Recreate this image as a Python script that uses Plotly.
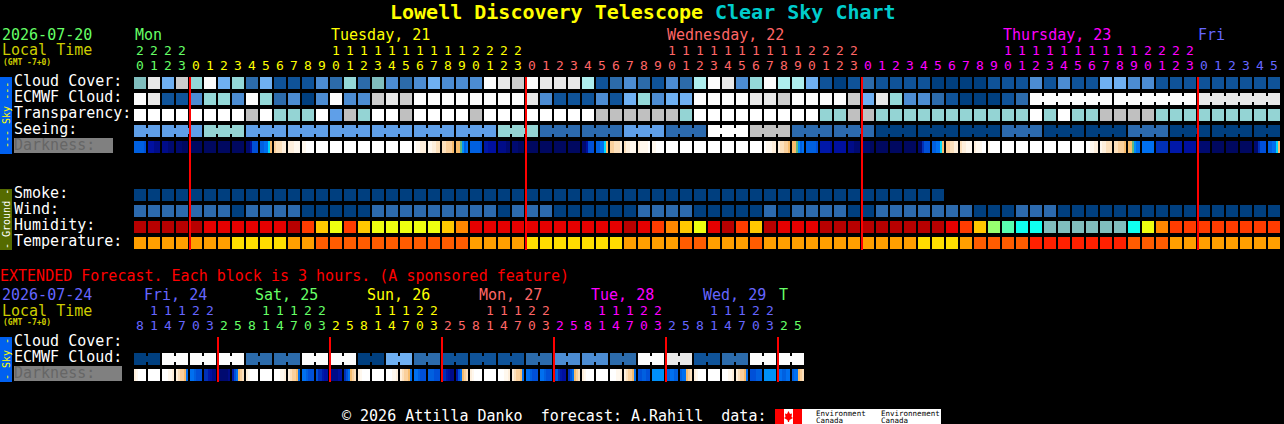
import plotly.graph_objects as go

W, H = 1284, 424
FONT = "DejaVu Sans Mono"

# ---------- hourly forecast data (one entry per block) ----------
HOURS = [20, 21, 22, 23] + list(range(24)) * 3 + [0, 1, 2, 3, 4, 5]
EXT_HOURS = [8, 11, 14, 17, 20, 23, 2, 5] * 6
EXT_HOURS = EXT_HOURS[:48]

CLOUD = [5, 9, 4, 8, 6, 10, 4, 6, 2, 4, 1, 1, 1, 3, 2, 6, 2, 5, 3, 2, 3, 4, 3, 3, 3, 10, 9, 8,
         10, 9, 9, 9, 7, 1, 2, 3, 2, 1, 3, 2, 7, 10, 9, 3, 6, 10, 7, 7, 4, 1, 0, 1,
         2, 1, 1, 1, 1, 0, 0, 0, 0, 1, 1, 1, 3, 1, 3, 1, 1, 4, 4, 3, 3, 1, 1, 1, 1, 1, 1, 1, 1, 1]
ECMWF = [10, 9, 1, 1, 3, 6, 6, 3, 10, 6, 2, 3, 0, 3, 10, 3, 3, 8, 9, 8, 10, 10, 10, 10, 10, 10, 10, 10,
         9, 3, 1, 1, 1, 3, 1, 4, 6, 3, 4, 4, 10, 10, 10, 10, 9, 9, 8, 10, 10, 10, 10, 8,
         4, 9, 6, 3, 3, 2, 1, 0, 0, 0, 1, 2, 10, 10, 10, 10, 10, 10, 10, 10, 10, 10, 10, 10, 9, 9, 9, 9, 9, 9]
ECMWF_MERGED = [64, 70, 76]
TRANSPARENCY = ["w", "w", "w", "w", "w", "w", "w", "w", "g", "w", "t", "t", "t", "w", "b", "g", "t", "w", "w", "g", "w",
                "w", "w", "w", "g", "w", "w", "w", "w", "w", "w", "w", "w", "g", "g", "g", "g", "g", "g", "t",
                "w", "w", "w", "w", "w", "w", "w", "w", "w", "t", "t", "g", "g",
                "t", "t", "t", "t", "t", "t", "t", "t", "t", "t", "t", "w", "t", "w", "t", "t", "g", "g", "g", "g",
                "t", "t", "t", "t", "t", "t", "t", "t", "t"]
SEEING_GROUP_LEN = [2] + [3] * 26 + [2]
SEEING = ["b", "b", "t", "b", "b", "b", "b", "b", "b", "t", "m", "m", "b", "m", "w", "g", "m", "m",
          "d", "d", "d", "m", "d", "d", "m", "d", "d", "d"]
DARKNESS = ["kkkkkl", "ooopp" + "p", "pppqqq", "qqqrrr", "rrrrrr", "rrrrrr", "rrrrrr", "rrrrrr", "qqolll", "kkjjhf",
            "edddcc", "cccbbb", "bbaaaa", "aaaaaa", "aaaaaa", "aaaaaa", "aaaaaa", "aaaaaa", "aaaaaa", "aaaaaa",
            "abbccc", "bbccdd", "ddeeef", "ffgikj", "kkkkkl", "nnoooo", "ppppqq", "qqqrrr", "rrrrrr", "rrrrrr",
            "rrrrrr", "rrrrrr", "qqolll", "kkjjhf", "eedddc", "dccbbb", "cbbbba", "bbaaaa", "aaaaaa", "aaaaaa",
            "aaaaaa", "aaaaaa", "aaaaaa", "aaaaaa", "aaaaaa", "abbbcc", "cddeef", "ffgikj", "kkkkkl", "nnnnno",
            "oooooo", "pppqqq", "qqqqrr", "rrrrrr", "rrrrrr", "rrrrrr", "qqmlll", "kkjjhf", "eeddcc", "dccbbb",
            "cbbbaa", "baaaaa", "aaaaaa", "aaaaaa", "aaaaaa", "aaaaaa", "aaaaaa", "aaaaaa", "aabbcc", "bccddd",
            "ddeeef", "ffgijj", "jjjjjj", "mmmmmm", "nnnnnn", "oooooo", "qqqqqq", "rrrrrr", "rrrrrr", "rrrrrr",
            "qqmlll", "kkjjhf"]
SMOKE = [0] * 58
WIND = [1, 1, 1, 1, 1, 1, 1, 0, 1, 1, 1, 1, 0, 0, 0, 0, 0, 1, 1, 1, 1, 1, 1, 1, 1, 1, 0, 1, 1, 1,
        0, 0, 0, 0, 0, 0, 1, 1, 1, 1, 0, 0, 0, 0, 0, 1, 0, 1, 1, 1, 1, 0,
        0, 1, 1, 1, 1, 1, 1, 1, 0, 0, 0, 1, 1, 1, 0, 0, 0, 0, 0, 0, 0, 0, 0, 0, 0, 0, 0, 0, 0, 0]
HUMIDITY = ["a", "a", "a", "a", "a", "b", "b", "b", "b", "b", "b", "a", "r", "o", "y", "r", "o", "y", "y", "y", "y",
            "y", "o", "n", "b", "b", "b", "b", "b", "b", "b", "b", "b", "b", "b", "a", "b", "r", "n", "o", "y", "b", "a", "r", "o",
            "a", "b", "b", "b", "a", "a", "a",
            "a", "a", "a", "a", "a", "a", "b", "r", "o", "l", "i", "c", "c", "t", "t", "t", "t", "t", "t", "c", "y", "n", "r", "r",
            "r", "r", "r", "r", "r", "r"]
TEMPERATURE = ["o", "o", "o", "o", "o", "o", "o", "y", "y", "y", "y", "o", "o", "d", "d", "d", "d", "d", "d", "d", "d",
               "d", "d", "d", "o", "o", "o", "o", "y", "y", "y", "y", "y", "y", "y", "o", "o", "o", "o", "d", "d", "o", "o", "o", "d",
               "o", "o", "o", "o", "o", "o", "o",
               "o", "o", "o", "o", "y", "y", "y", "o", "d", "d", "d", "d", "r", "r", "r", "r", "r", "r", "r", "d", "d", "d", "o", "o",
               "o", "o", "o", "o", "o", "o"]
MIDNIGHTS = [4, 28, 52, 76]

# ---------- extended forecast (one ECMWF value per 6 h pair, 6 darkness steps per block) ----------
EXT_ECMWF = [0, 10, 10, 10, 2, 2, 10, 10, 0, 4, 2, 1, 1, 1, 2, 3, 3, 2, 10, 9, 1, 2, 10, 10]
EXT_DARKNESS = ["cbaaaa", "aaaaaa", "aaabbc", "cdeefj", "jjklll", "mmnopp", "qqqqqp", "nljfed",
                "cbaaaa", "aaaaaa", "aaabbc", "cdeefj", "jjklll", "lmmnoo", "ppppoo", "mljfed",
                "cbaaaa", "aaaaaa", "aaabbc", "cdeefj", "jjklll", "kkklll", "mmnopp", "nljfed",
                "cbaaaa", "aaaaaa", "aaabbc", "cdeefj", "jjklll", "jjklll", "lkmnoo", "mljfed",
                "cbaaaa", "aaaaaa", "aaabbc", "cdeefj", "llkkll", "iiiiii", "kkjjkk", "kjjfed",
                "cbaaaa", "aaaaaa", "aaabbc", "cdeefj", "lllkkk", "iiiiii", "jjkkjj", "kjjfed"]
EXT_MIDNIGHTS = [6, 14, 22, 30, 38, 46]

DAY_LABELS = [("Mon", 135, "#66FF66"), ("Tuesday, 21", 331, "#FFFF00"), ("Wednesday, 22", 667, "#FF6666"),
              ("Thursday, 23", 1003, "#FF00FF"), ("Fri", 1198, "#6666FF")]
EXT_DAY_LABELS = [("Fri, 24", 144, "#6666FF"), ("Sat, 25", 255, "#66FF66"), ("Sun, 26", 367, "#FFFF00"),
                  ("Mon, 27", 479, "#FF6666"), ("Tue, 28", 591, "#FF00FF"), ("Wed, 29", 703, "#6666FF"),
                  ("T", 779, "#66FF66")]

# ---------- palettes ----------
CLOUD_PAL = ["#003F7F", "#0F5399", "#2C6BAB", "#4C8CD2", "#6FB0F2", "#80BEBE", "#94D8D8", "#AEEEEE",
             "#CCCCCC", "#E8E8E8", "#FCFCFC"]
TRANS_PAL = {"w": "#FFFFFF", "g": "#C0C0C0", "t": "#94D4D4", "b": "#5F9FE8", "m": "#2C6AAE", "d": "#003F7F"}
WIND_PAL = ["#003F7F", "#2C6AAE"]
HUM_PAL = {"a": "#B80000", "b": "#E60000", "r": "#FF3C00", "n": "#FF8800", "o": "#FFC800", "y": "#EEFF10",
           "l": "#98FF70", "i": "#58FFB0", "c": "#10FFF0", "t": "#80BEBE"}
TEMP_PAL = {"y": "#FFDD00", "o": "#FF9F00", "d": "#FF5C00", "r": "#FF2000"}
DARK_PAL = {"a": "#FFFFFF", "b": "#FFF8EE", "c": "#FEEFDC", "d": "#FCE0BC", "e": "#FAD09C", "f": "#F7BC6C",
            "g": "#60B880", "h": "#00D8F8", "i": "#0090F8", "j": "#0070F0", "k": "#0060E0", "l": "#0050D8",
            "m": "#0030B8", "n": "#0018A8", "o": "#0010A0", "p": "#000C88", "q": "#000A70", "r": "#000860"}


# ---------- geometry helpers: one x unit = 14 px, one y unit = 16 px ----------
X0, Y0, PX, PY = 140, 83, 14, 16
ROWS = {"cloud": 0, "ecmwf": 1, "trans": 2, "seeing": 3, "dark": 4, "smoke": 7, "wind": 8, "hum": 9, "temp": 10,
        "x_ecmwf": 17.25, "x_dark": 18.25}

fig = go.Figure()


def blocks(row, colors, xs=None):
    xs = list(range(len(colors))) if xs is None else xs
    y = ROWS[row]
    fig.add_trace(go.Bar(x=xs, y=[12 / PY] * len(xs), base=[y - 6 / PY] * len(xs), width=12 / PX,
                         marker=dict(color=colors, line=dict(width=0)), hoverinfo="skip"))


def bridges(row, colors, xs):
    y = ROWS[row]
    fig.add_trace(go.Bar(x=xs, y=[6 / PY] * len(xs), base=[y - 3 / PY] * len(xs), width=4 / PX,
                         marker=dict(color=colors, line=dict(width=0)), hoverinfo="skip"))


def stripes(row, codes):
    xs, cols = [], []
    for i, code in enumerate(codes):
        for j, ch in enumerate(code):
            xs.append(i + (j - 2.5) * 2 / PX)
            cols.append(DARK_PAL[ch])
    y = ROWS[row]
    fig.add_trace(go.Bar(x=xs, y=[12 / PY] * len(xs), base=[y - 6 / PY] * len(xs), width=2 / PX,
                         marker=dict(color=cols, line=dict(width=0)), hoverinfo="skip"))


blocks("cloud", [CLOUD_PAL[v] for v in CLOUD])
ec_cols = [CLOUD_PAL[v] for v in ECMWF]
blocks("ecmwf", ec_cols)
bx = [s + k + 0.5 for s in ECMWF_MERGED for k in range(5)]
bridges("ecmwf", [ec_cols[int(b)] for b in bx], bx)
blocks("trans", [TRANS_PAL[v] for v in TRANSPARENCY])

see_cols, see_x = [], []
start = 0
for n, v in zip(SEEING_GROUP_LEN, SEEING):
    see_cols += [TRANS_PAL[v]] * n
    see_x += [start + k + 0.5 for k in range(n - 1)]
    start += n
blocks("seeing", see_cols)
bridges("seeing", [see_cols[int(b)] for b in see_x], see_x)
stripes("dark", DARKNESS)
blocks("smoke", [WIND_PAL[v] for v in SMOKE])
blocks("wind", [WIND_PAL[v] for v in WIND])
blocks("hum", [HUM_PAL[v] for v in HUMIDITY])
blocks("temp", [TEMP_PAL[v] for v in TEMPERATURE])

xe_cols = [CLOUD_PAL[v] for v in EXT_ECMWF for _ in (0, 1)]
blocks("x_ecmwf", xe_cols)
bx = [2 * p + 0.5 for p in range(len(EXT_ECMWF))]
bridges("x_ecmwf", [CLOUD_PAL[v] for v in EXT_ECMWF], bx)
stripes("x_dark", EXT_DARKNESS)

# midnight markers
lx, ly = [], []
for m in MIDNIGHTS:
    lx += [m - 6 / PX, m - 6 / PX, None]
    ly += [(77 - Y0) / PY, (250 - Y0) / PY, None]
for m in EXT_MIDNIGHTS:
    lx += [m - 6 / PX, m - 6 / PX, None]
    ly += [(337 - Y0) / PY, (382 - Y0) / PY, None]
fig.add_trace(go.Scatter(x=lx, y=ly, mode="lines", line=dict(color="#FF0000", width=2), hoverinfo="skip"))


# hour digits
def day_color(i):
    if i < 4:
        return "#66FF66"
    if i < 28:
        return "#FFFF00"
    if i < 52:
        return "#FF6666"
    if i < 76:
        return "#FF00FF"
    return "#6666FF"


def ext_color(i):
    seq = ["#6666FF", "#66FF66", "#FFFF00", "#FF6666", "#FF00FF", "#6666FF", "#66FF66"]
    return seq[0] if i < 6 else seq[(i - 6) // 8 + 1]


def digits(hours, colorf, y_tens, y_ones):
    xs = list(range(len(hours)))
    cols = [colorf(i) for i in xs]
    fig.add_trace(go.Scatter(x=xs, y=[(y_ones - Y0) / PY] * len(xs), mode="text", text=[str(h % 10) for h in hours],
                             textposition="middle center", hoverinfo="skip",
                             textfont=dict(family=FONT, size=13, color=cols)))
    fig.add_trace(go.Scatter(x=xs, y=[(y_tens - Y0) / PY] * len(xs), mode="text",
                             text=[str(h // 10) if h >= 10 else "" for h in hours],
                             textposition="middle center", hoverinfo="skip",
                             textfont=dict(family=FONT, size=13, color=cols)))


digits(HOURS, day_color, 51.5, 66.5)
digits(EXT_HOURS, ext_color, 311.5, 326.5)


# ---------- page furniture ----------
def fx(px):
    return px / W


def fy(py):
    return 1 - py / H


def txt(s, x, y, color="#FFFFFF", size=15, bold=False, anchor="left", angle=0, family=FONT):
    fig.add_annotation(text=f"<b>{s}</b>" if bold else s, x=fx(x), y=fy(y), xref="paper", yref="paper",
                       showarrow=False, xanchor=anchor, yanchor="middle", textangle=angle, borderpad=0,
                       borderwidth=0, font=dict(family=family, size=size, color=color))


def rect(x0, y0, x1, y1, color):
    fig.add_shape(type="rect", xref="paper", yref="paper", x0=fx(x0), x1=fx(x1), y0=fy(y0), y1=fy(y1),
                  fillcolor=color, line=dict(width=0), layer="below")


txt("Lowell Discovery Telescope", 390, 12, "#FFFF00", 20, True)
txt("Clear Sky Chart", 715, 12, "#00CCCC", 20, True)

LOCAL = "#CCCC00"
txt("2026-07-20", 2, 35, "#66FF66")
txt("Local Time", 2, 50.5, LOCAL)
txt("(GMT -7+0)", 3, 62, LOCAL, 8, True)
for s, x, c in DAY_LABELS:
    txt(s, x, 35, c)

rect(0, 77, 12, 154, "#0060F0")
txt("--- Sky ---", 6, 115, "#FFFF00", 10, anchor="center", angle=-90)
rect(0, 189, 12, 250, "#556B00")
txt("- Ground -", 6, 219, "#FFFFFF", 10, anchor="center", angle=-90)
rect(0, 337, 12, 382, "#0060F0")
txt("- Sky -", 6, 359, "#FFFF00", 10, anchor="center", angle=-90)

for s, y in [("Cloud Cover:", 81), ("ECMWF Cloud:", 97), ("Transparency:", 113), ("Seeing:", 129),
             ("Smoke:", 193), ("Wind:", 209), ("Humidity:", 225), ("Temperature:", 241),
             ("Cloud Cover:", 341), ("ECMWF Cloud:", 357)]:
    txt(s, 14, y)
rect(14, 138, 113, 153, "#808080")
txt("Darkness:", 14, 145, "#666666")
rect(14, 366, 122, 381, "#808080")
txt("Darkness:", 14, 373, "#666666")

txt("EXTENDED Forecast. Each block is 3 hours. (A sponsored feature)", 0, 276, "#FF0000", 15)
txt("2026-07-24", 2, 295, "#6666FF")
txt("Local Time", 2, 310.5, LOCAL)
txt("(GMT -7+0)", 3, 322, LOCAL, 8, True)
for s, x, c in EXT_DAY_LABELS:
    txt(s, x, 295, c)

txt("© 2026 Attilla Danko  forecast: A.Rahill  data:", 342, 416, "#FFFFFF")

# Environment Canada logo
rect(775, 409, 941, 424, "#FFFFFF")
rect(775, 409, 784, 424, "#FF0000")
rect(793, 409, 802, 424, "#FF0000")
leaf = [(788.5, 411), (790, 414), (792, 413.5), (791.5, 417), (793, 418), (789.5, 420), (789, 422), (788, 422),
        (787.5, 420), (784, 418), (785.5, 417), (785, 413.5), (787, 414)]
fig.add_shape(type="path", xref="paper", yref="paper",
              path="M " + " L ".join(f"{fx(a):.5f} {fy(b):.5f}" for a, b in leaf) + " Z",
              fillcolor="#FF0000", line=dict(width=0), layer="above")
txt("Environment", 816, 413, "#000000", 7.5)
txt("Canada", 816, 420, "#000000", 7.5)
txt("Environnement", 881, 413, "#000000", 7.5)
txt("Canada", 881, 420, "#000000", 7.5)

fig.update_layout(
    width=W, height=H, margin=dict(l=0, r=0, t=0, b=0), paper_bgcolor="#000000", plot_bgcolor="#000000",
    barmode="overlay", showlegend=False, hovermode=False,
    xaxis=dict(visible=False, range=[(0 - X0) / PX, (W - X0) / PX], fixedrange=True),
    yaxis=dict(visible=False, range=[(H - Y0) / PY, (0 - Y0) / PY], fixedrange=True),
)
fig.write_html("out.html", config={"displayModeBar": False},
               post_script="document.body.style.margin='0';document.body.style.background='#000';document.body.style.overflow='hidden';")
